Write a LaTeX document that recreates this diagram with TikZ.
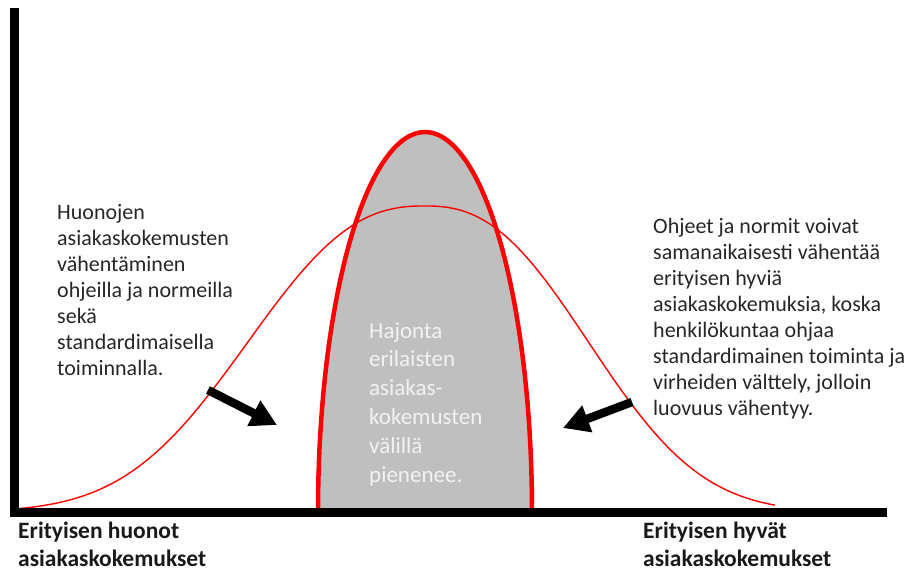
\documentclass[tikz,border=0pt]{standalone}
\usepackage{fontspec}
\setmainfont{Carlito}
\usetikzlibrary{arrows.meta}
\definecolor{curvered}{HTML}{FF0000}
\definecolor{areagray}{HTML}{BFBFBF}
\definecolor{inktext}{HTML}{262626}
\definecolor{palettext}{HTML}{F2F2F2}
\begin{document}
\begin{tikzpicture}[x=1pt,y=-1pt,
  axisline/.style={line width=9pt, line join=miter, black},
  widecurve/.style={curvered, line width=1.4pt},
  narrowcurve/.style={curvered, line width=4.5pt},
  notetext/.style={inner sep=0pt, align=left, text=inktext, font=\fontsize{22}{26}\selectfont},
  innertext/.style={inner sep=0pt, align=left, text=palettext, font=\fontsize{23}{28.8}\selectfont},
  axislabel/.style={inner sep=0pt, align=left, text=black!90, font=\bfseries\fontsize{23.5}{28.5}\selectfont},
  bigarrow/.style={line width=8.5pt, black, -{Triangle[length=26pt,width=27pt]}}
]
\useasboundingbox (0,0) rectangle (905,571);

% narrow distribution: filled area and thick outline
\fill[areagray] plot[domain=180:0, samples=120] ({425+107*cos(\x)}, {512-380*sin(\x)}) -- cycle;
\draw[narrowcurve] plot[domain=180:0, samples=120] ({425+107*cos(\x)}, {512-380*sin(\x)});

% wide distribution
\draw[widecurve] plot[domain=18:425, samples=120] (\x, {512-306*exp(-pow((abs(\x-425)+0.01)/220, 2.45))})
  -- plot[domain=425:775, samples=120] (\x, {512-306*exp(-pow((abs(\x-425)+0.01)/203, 2.45))});

% axes
\draw[axisline] (14,8) -- (14,512.5) -- (887,512.5);

% texts (anchored at the baseline of their last line)
\node[notetext, anchor=base west] (leftnote) at (57,375)
  {Huonojen\\asiakaskokemusten\\vähentäminen\\ohjeilla ja normeilla\\sekä\\standardimaisella\\toiminnalla.};
\node[notetext, anchor=base west] (rightnote) at (653,415)
  {Ohjeet ja normit voivat\\samanaikaisesti vähentää\\erityisen hyviä\\asiakaskokemuksia, koska\\henkilökuntaa ohjaa\\standardimainen toiminta ja\\virheiden välttely, jolloin\\luovuus vähentyy.};
\node[innertext, anchor=base west] (centernote) at (369,482)
  {Hajonta\\erilaisten\\asiakas-\\kokemusten\\välillä\\pienenee.};
\node[axislabel, anchor=base west] (poorlabel) at (18,566.5)
  {Erityisen huonot\\asiakaskokemukset};
\node[axislabel, anchor=base west] (goodlabel) at (643,566.5)
  {Erityisen hyvät\\asiakaskokemukset};

% arrows pointing towards the narrow distribution
\coordinate (lefttail) at (208,390);
\coordinate (lefttip) at (277,425);
\coordinate (righttail) at (632,402);
\coordinate (righttip) at (563,428);
\draw[bigarrow] (lefttail) -- (lefttip);
\draw[bigarrow] (righttail) -- (righttip);
\end{tikzpicture}
\end{document}
